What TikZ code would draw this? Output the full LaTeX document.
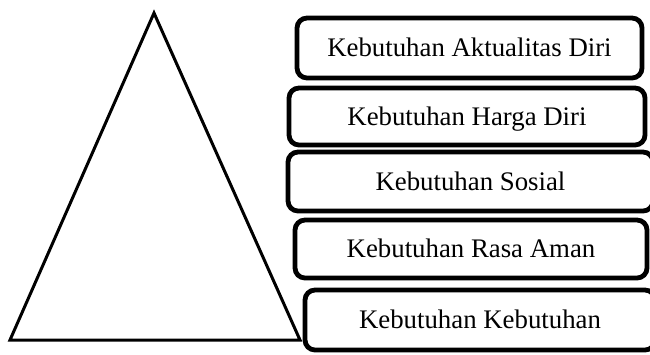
\documentclass[tikz,border=0pt]{standalone}
\usepackage{fontspec}
\setmainfont{Liberation Serif}
\begin{document}
\begin{tikzpicture}[x=1pt,y=-1pt,
  level/.style={draw=black, line width=4.8pt, rounded corners=10pt, fill=white,
    inner sep=0pt, text height=17.4pt, text depth=0pt,
    font=\fontsize{26.8}{30}\selectfont},
  pyramid/.style={draw=black, line width=3pt}]
\useasboundingbox (0,0) rectangle (650,354);
% pyramid outline
\coordinate (apex) at (154,13);
\coordinate (baseL) at (10,340);
\coordinate (baseR) at (300,340);
\draw[pyramid] (apex) -- (baseL) -- (baseR) -- cycle;
% hierarchy levels, top to bottom
\node[level, minimum width=345pt, minimum height=60pt] (l1) at (469.5,48) {Kebutuhan Aktualitas Diri};
\node[level, minimum width=356pt, minimum height=57pt] (l2) at (467,116.5) {Kebutuhan Harga Diri};
\node[level, minimum width=365pt, minimum height=59pt] (l3) at (470.5,181.5) {Kebutuhan Sosial};
\node[level, minimum width=352pt, minimum height=58pt] (l4) at (471,249) {Kebutuhan Rasa Aman};
\node[level, minimum width=350pt, minimum height=60pt] (l5) at (480,320) {Kebutuhan Kebutuhan};
\end{tikzpicture}
\end{document}
